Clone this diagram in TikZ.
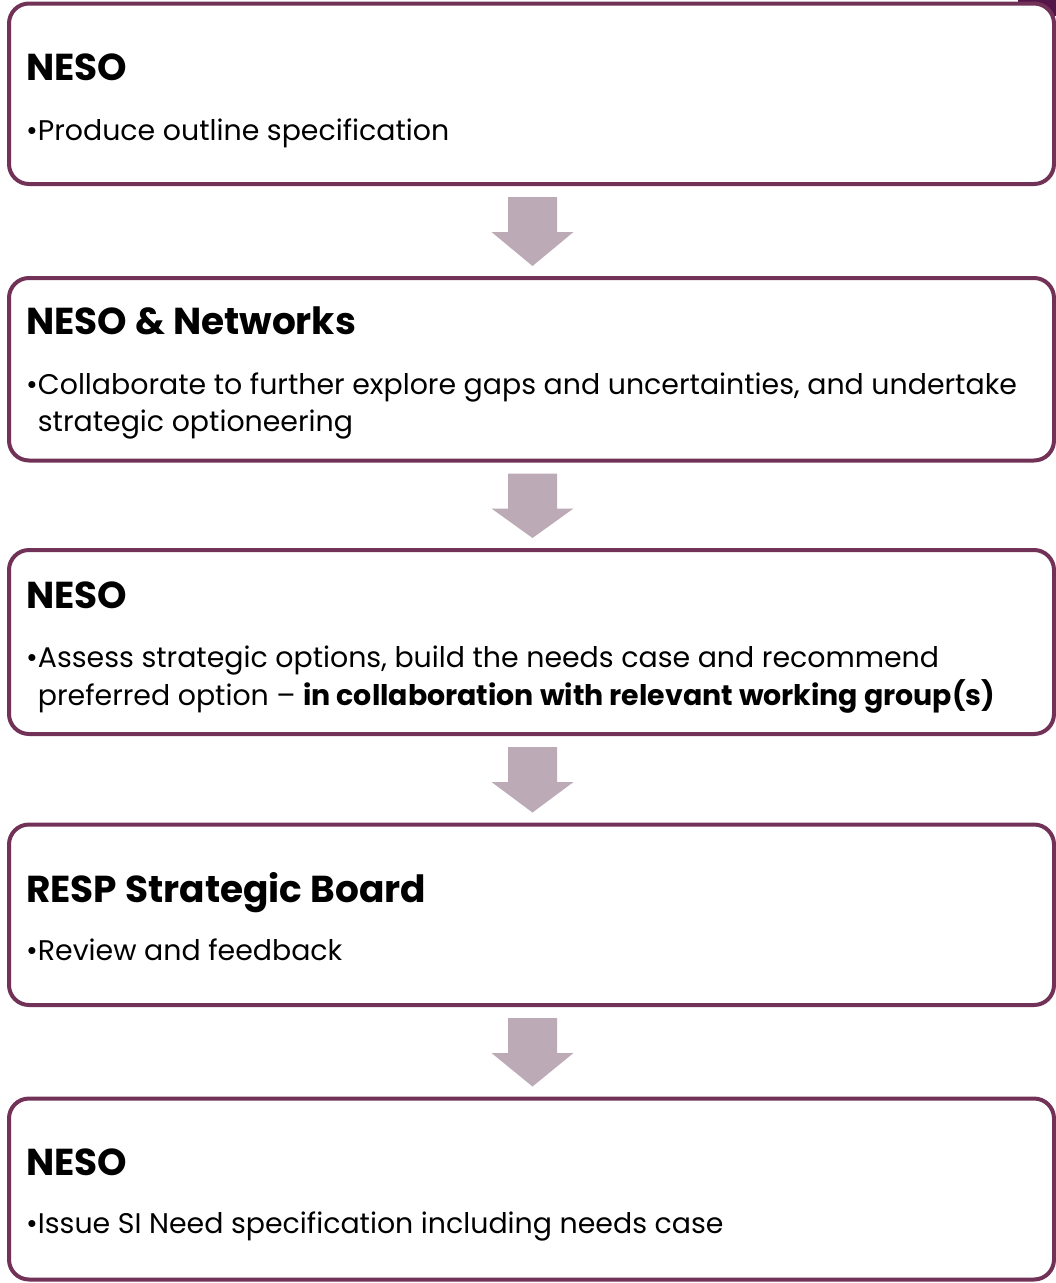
\documentclass[tikz,border=0pt]{standalone}
\usepackage{fontspec}
\setmainfont{Poppins}
\usetikzlibrary{calc}
\definecolor{border}{RGB}{114,50,88}
\definecolor{arrowc}{RGB}{188,170,182}
\definecolor{cornerc}{RGB}{84,22,72}
\newcommand\flowarrow[2]{%
  \fill[flow] ($(#1.south)+(-23.5,13)$) -- ($(#1.south)+(25.5,13)$) -- ($(#1.south)+(25.5,48)$) --
  ($(#1.south)+(42,48)$) -- ($(#2.north)+(1,-12)$) -- ($(#1.south)+(-40,48)$) --
  ($(#1.south)+(-23.5,48)$) -- cycle;}
\begin{document}
\begin{tikzpicture}[x=1pt,y=-1pt,
  box/.style={draw=border, line width=4pt, rounded corners=20pt, fill=white,
    inner sep=0pt, outer sep=0pt, minimum width=1045pt},
  ttl/.style={anchor=base west, inner sep=0pt, font=\fontsize{37.5}{45}\selectfont\bfseries},
  body/.style={anchor=base west, inner sep=0pt, font=\fontsize{28.4}{37.5}\selectfont},
  flow/.style={fill=arrowc}]
\useasboundingbox (0,0) rectangle (1056,1283);
\fill[cornerc] (1018,0) rectangle (1056,16);

\node[box, minimum height=180.5pt] (b1) at (531.5,93.75) {};
\node[box, minimum height=182.5pt] (b2) at (531.5,369.25) {};
\node[box, minimum height=184pt] (b3) at (531.5,642) {};
\node[box, minimum height=180.5pt] (b4) at (531.5,914.75) {};
\node[box, minimum height=181pt] (b5) at (531.5,1189) {};

\flowarrow{b1}{b2}
\flowarrow{b2}{b3}
\flowarrow{b3}{b4}
\flowarrow{b4}{b5}

\node[ttl] (t1) at (26,80) {NESO};
\node[body] (d1) at (26,140) {•Produce outline specification};

\node[ttl] (t2) at (26,334) {NESO \& Networks};
\node[body] (d2a) at (26,394) {•Collaborate to further explore gaps and uncertainties, and undertake};
\node[body] (d2b) at (26,431.5) {\phantom{•}strategic optioneering};

\node[ttl] (t3) at (26,608) {NESO};
\node[body] (d3a) at (26,667) {•Assess strategic options, build the needs case and recommend};
\node[body] (d3b) at (26,705) {\phantom{•}preferred option – \textbf{in collaboration with relevant working group(s)}};

\node[ttl] (t4) at (26,902) {RESP Strategic Board};
\node[body] (d4) at (26,960) {•Review and feedback};

\node[ttl] (t5) at (26,1175) {NESO};
\node[body] (d5) at (26,1233) {•Issue SI Need specification including needs case};
\end{tikzpicture}
\end{document}
